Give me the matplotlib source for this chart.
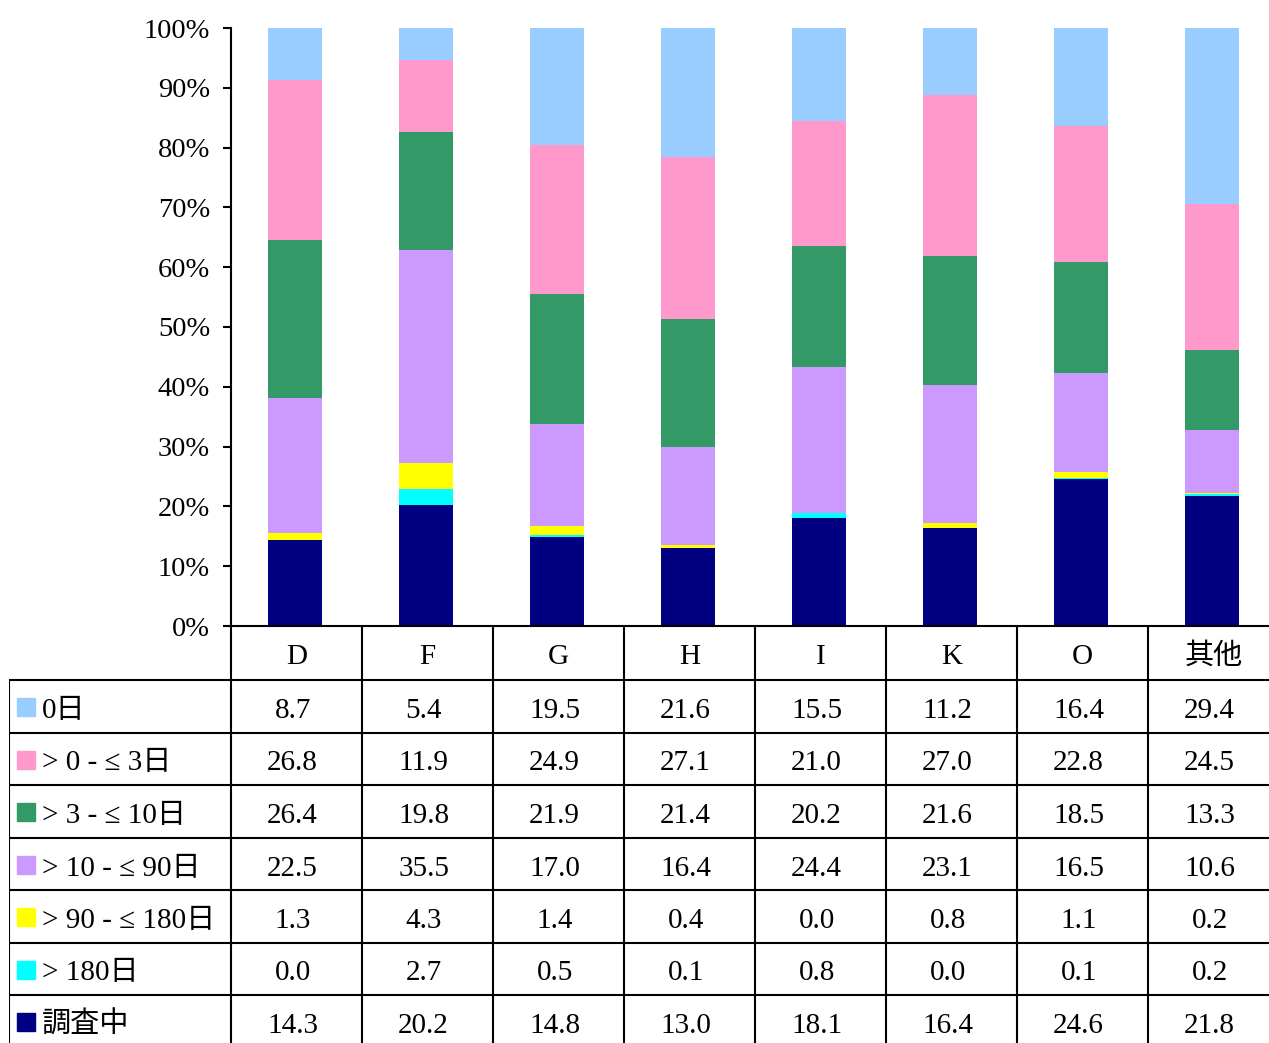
import numpy as np
import matplotlib.pyplot as plt
from matplotlib.ticker import PercentFormatter

plt.rcParams['font.family'] = ['Liberation Serif', 'Noto Sans CJK JP']

categories = ['D', 'F', 'G', 'H', 'I', 'K', 'O', '其他']
series_names = ['0日', '> 0 - ≤ 3日', '> 3 - ≤ 10日', '> 10 - ≤ 90日',
                '> 90 - ≤ 180日', '> 180日', '調査中']
colors = ['#99CCFF', '#FF99CC', '#339966', '#CC99FF', '#FFFF00', '#00FFFF', '#000080']

day0 = [8.7, 5.4, 19.5, 21.6, 15.5, 11.2, 16.4, 29.4]
d0_3 = [26.8, 11.9, 24.9, 27.1, 21.0, 27.0, 22.8, 24.5]
d3_10 = [26.4, 19.8, 21.9, 21.4, 20.2, 21.6, 18.5, 13.3]
d10_90 = [22.5, 35.5, 17.0, 16.4, 24.4, 23.1, 16.5, 10.6]
d90_180 = [1.3, 4.3, 1.4, 0.4, 0.0, 0.8, 1.1, 0.2]
d180 = [0.0, 2.7, 0.5, 0.1, 0.8, 0.0, 0.1, 0.2]
pending = [14.3, 20.2, 14.8, 13.0, 18.1, 16.4, 24.6, 21.8]

series = [day0, d0_3, d3_10, d10_90, d90_180, d180, pending]

W, H = 1269, 1043
fig = plt.figure(figsize=(W / 100, H / 100), dpi=100)

col_w = 131.0
n = len(categories)
x0 = 231
fs = 21

# chart area (100% stacked, each column scaled to its total)
ax = fig.add_axes([x0 / W, (H - 626) / H, n * col_w / W, (626 - 28) / H])
x = np.arange(n) + 0.49
totals = np.sum(series, axis=0)
bottom = np.zeros(n)
for name, vals, c in reversed(list(zip(series_names, series, colors))):
    share = np.array(vals) / totals * 100
    ax.bar(x, share, width=0.41, bottom=bottom, color=c, label=name)
    bottom += share
ax.set_xlim(0, n)
ax.set_ylim(0, 100)
ax.set_yticks(np.arange(0, 101, 10))
ax.yaxis.set_major_formatter(PercentFormatter(decimals=0))
ax.tick_params(axis='y', labelsize=20.5, length=6, width=1.5, pad=9)
ax.set_xticks([])
for s in ['top', 'right']:
    ax.spines[s].set_visible(False)
ax.spines['left'].set_linewidth(1.5)
ax.spines['bottom'].set_linewidth(1.5)

# data table below (y in pixels from the axis line)
left_w = x0 - 9
head_h = 54
row_h = 52.5
tab_h = head_h + 7 * row_h
tax = fig.add_axes([9 / W, (H - 626 - tab_h) / H, (left_w + n * col_w) / W, tab_h / H])
tax.set_xlim(-left_w / col_w, n)
tax.set_ylim(tab_h, 0)
tax.axis('off')
lw = 1.5
xl = -left_w / col_w
for i in range(n):
    tax.plot([i, i], [0, tab_h], color='black', lw=lw, solid_capstyle='butt')
    tax.text(i + 0.5, 38, categories[i], ha='center', va='baseline', fontsize=fs)
tax.plot([xl, xl], [head_h, tab_h], color='black', lw=lw, solid_capstyle='butt')
for r in range(7):
    yl = head_h + r * row_h
    tax.plot([xl, n], [yl, yl], color='black', lw=lw)
for r, (name, vals, c) in enumerate(zip(series_names, series, colors)):
    top = head_h + r * row_h
    tax.plot([(26 - x0) / col_w], [top + 27], marker='s', markersize=13, color=c, linestyle='none')
    tax.text((42 - x0) / col_w, top + 38, name, ha='left', va='baseline', fontsize=fs)
    for i, v in enumerate(vals):
        tax.text(i + 0.47, top + 38, f'{v:.1f}', ha='center', va='baseline', fontsize=fs)

fig.savefig('out.png', dpi=100)
